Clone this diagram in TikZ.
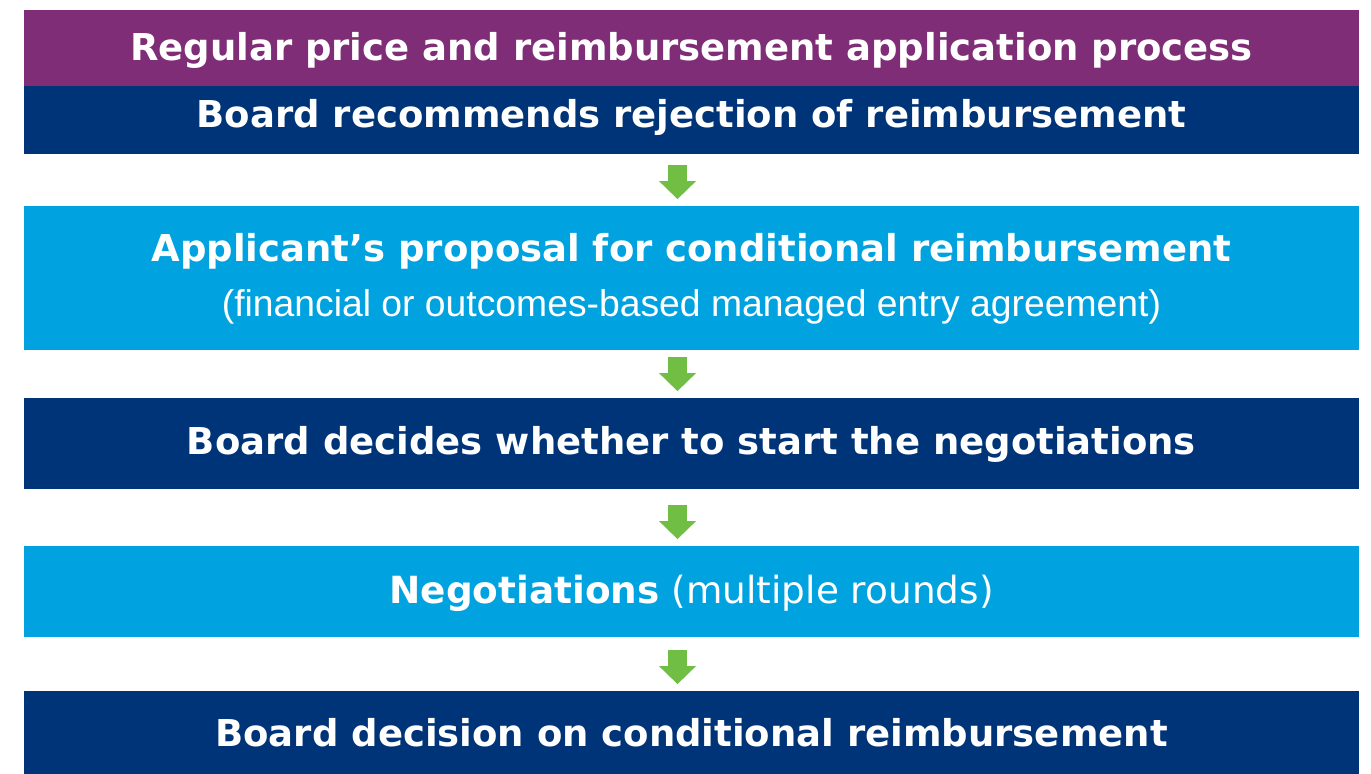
\documentclass[tikz,border=0pt]{standalone}
\usepackage{fontspec}
\setmainfont{DejaVu Sans}
\newfontfamily\subfont{Liberation Sans}
\usetikzlibrary{arrows.meta}

\definecolor{headpurple}{RGB}{127,45,119}
\definecolor{boardblue}{RGB}{0,52,120}
\definecolor{stepblue}{RGB}{0,162,224}
\definecolor{arrowgreen}{RGB}{112,191,68}

\tikzset{
  bar/.style={inner sep=0pt, minimum width=667.5pt},
  bartext/.style={anchor=base, text=white, inner sep=0pt, font=\fontsize{18.5}{22}\selectfont},
  downarrow/.style={arrowgreen, line width=9.5pt,
    -{Triangle[width=18.5pt,length=9pt,line width=0pt]}, shorten >=3.25pt}
}

\begin{document}
\begin{tikzpicture}[x=0.5pt,y=-0.5pt]

\def\HEADCOLOR{headpurple}
\def\BOARDCOLOR{boardblue}
\def\STEPCOLOR{stepblue}
	\useasboundingbox (0,0) rectangle (1371,774);
	\node[bar, fill=\HEADCOLOR, minimum height=38pt] (head) at (691.5,48) {};
	\node[bar, fill=\BOARDCOLOR, minimum height=34pt] (reject) at (691.5,120) {};
	\node[bar, fill=\STEPCOLOR, minimum height=72pt] (proposal) at (691.5,278) {};
	\node[bar, fill=\BOARDCOLOR, minimum height=45.5pt] (start) at (691.5,443.5) {};
	\node[bar, fill=\STEPCOLOR, minimum height=45.5pt] (rounds) at (691.5,591.5) {};
	\node[bar, fill=\BOARDCOLOR, minimum height=41.5pt] (decision) at (691.5,732.5) {};

	\node[bartext] (headtext) at (691.5,61) {\bfseries Regular price and reimbursement application process};
	\node[bartext] (rejecttext) at (691.5,128) {\bfseries Board recommends rejection of reimbursement};
	\node[bartext] (proposaltext) at (691.5,262) {\bfseries Applicant’s proposal for conditional reimbursement};
	\node[bartext, font=\subfont\fontsize{18.65}{22}\selectfont] (proposalsub) at (691.5,317) {(financial or outcomes-based managed entry agreement)};
	\node[bartext] (starttext) at (691.5,455) {\bfseries Board decides whether to start the negotiations};
	\node[bartext, font=\fontsize{18.7}{22}\selectfont] (roundstext) at (691.5,604) {\textbf{Negotiations} (multiple rounds)};
	\node[bartext] (decisiontext) at (691.5,747) {\bfseries Board decision on conditional reimbursement};

	\coordinate (axis) at (677.5,0);
	\draw[downarrow, shorten <=5.5pt] (reject.south -| axis) -- (proposal.north -| axis);
	\draw[downarrow, shorten <=3.5pt] (proposal.south -| axis) -- (start.north -| axis);
	\draw[downarrow, shorten <=8pt] (start.south -| axis) -- (rounds.north -| axis);
	\draw[downarrow, shorten <=6.5pt] (rounds.south -| axis) -- (decision.north -| axis);

\end{tikzpicture}
\end{document}
